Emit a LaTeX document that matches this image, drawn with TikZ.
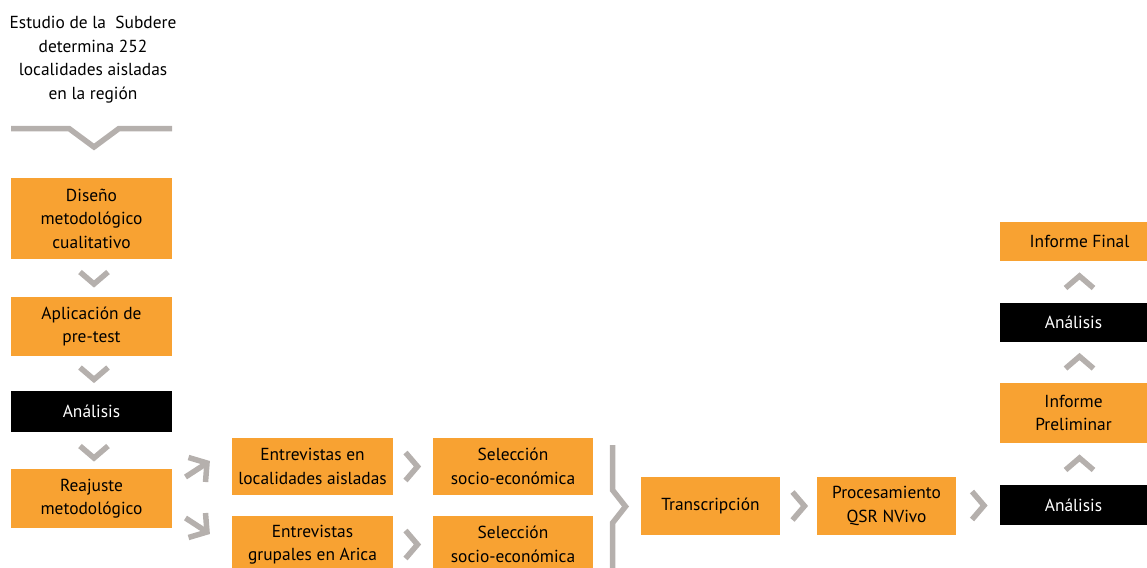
\documentclass[tikz,border=0pt]{standalone}
\usepackage{fontspec}
\setmainfont{PT Sans}
\usetikzlibrary{calc}
\definecolor{orng}{RGB}{248,162,50}
\definecolor{chgray}{RGB}{181,176,173}
\tikzset{
  box/.style={fill=orng, inner sep=0pt, align=center, text=black,
    font=\fontsize{17.4}{23.5}\selectfont},
  dbox/.style={box, fill=black, text=white},
  chev/.style={draw=chgray, line width=5.5pt, miter limit=10},
  chevdown/.pic={\draw[chev] (-14,-6) -- (0,6) -- (14,-6);},
  chevup/.pic={\draw[chev] (-14,6) -- (0,-6) -- (14,6);},
  chevright/.pic={\draw[chev] (-6,-14) -- (6,0) -- (-6,14);},
}
\begin{document}
\begin{tikzpicture}[x={(1pt,0)}, y={(0,-1pt)}]
\useasboundingbox (0,0) rectangle (1147,567);
% top text
\node[font=\fontsize{17.4}{23.5}\selectfont, align=center, inner sep=0pt] (intro) at (93,59.5)
  {Estudio de la\ \ Subdere\\determina 252\\localidades aisladas\\en la región};
\coordinate (brL) at (11,128.5);
\coordinate (brR) at (172,128.5);
\draw[chev] (brL) -- (69,128.5) -- (94,147) -- (119,128.5) -- (brR);
% left column
\node[box, minimum width=161pt, minimum height=81pt] (dis) at (91.5,218.5) {Diseño\\metodológico\\cualitativo};
\node[box, minimum width=161pt, minimum height=59pt] (apl) at (91.5,326.5) {Aplicación de\\pre-test};
\node[dbox, minimum width=161pt, minimum height=41pt] (an1) at (91.5,411.5) {Análisis};
\node[box, minimum width=161pt, minimum height=59pt] (rea) at (91.5,498.5) {Reajuste\\metodológico};
\pic at ($(dis.south)!0.5!(apl.north)+(2.5,0)$) {chevdown};
\pic at ($(apl.south)!0.5!(an1.north)+(2.5,0)$) {chevdown};
\pic at ($(an1.south)!0.5!(rea.north)+(2.5,1.5)$) {chevdown};
% middle boxes
\node[box, minimum width=161pt, minimum height=57pt] (ent1) at (312.5,466.5) {Entrevistas en\\localidades aisladas};
\node[box, minimum width=161pt, minimum height=57pt] (ent2) at (312.5,544.5) {Entrevistas\\grupales en Arica};
\node[box, minimum width=160pt, minimum height=57pt] (sel1) at (513,466.5) {Selección\\socio-económica};
\node[box, minimum width=160pt, minimum height=57pt] (sel2) at (513,544.5) {Selección\\socio-económica};
\pic at ($(ent1.east)!0.5!(sel1.west)+(-1.5,0)$) {chevright};
\pic at ($(ent2.east)!0.5!(sel2.west)+(-1.5,0)$) {chevright};
% diagonal arrows
\coordinate (up0) at (185.5,477);
\coordinate (upA) at (207,463);
\draw[chev] (up0) -- (upA);
\draw[chev] (188.5,457.5) -- (upA) -- (205.5,482);
\coordinate (dn0) at (185.5,518);
\coordinate (dnA) at (207,532);
\draw[chev] (dn0) -- (dnA);
\draw[chev] (188.5,537.5) -- (dnA) -- (205.5,513);
% bracket
\coordinate (bkT) at (612.5,445);
\coordinate (bkB) at (612.5,575);
\draw[chev] (bkT) -- (612.5,490) -- (625.5,506.5) -- (612.5,523) -- (bkB);
% bottom row
\node[box, minimum width=139pt, minimum height=58pt] (tra) at (710.5,506) {Transcripción};
\node[box, minimum width=139pt, minimum height=58pt] (pro) at (886.5,506) {Procesamiento\\QSR NVivo};
\node[dbox, minimum width=147pt, minimum height=40pt] (an2) at (1073.5,505) {Análisis};
\pic at ($(tra.east)!0.5!(pro.west)$) {chevright};
\pic at ($(pro.east)!0.5!(an2.west)$) {chevright};
% right column
\node[box, minimum width=147pt, minimum height=60pt] (pre) at (1073.5,413) {Informe\\Preliminar};
\node[dbox, minimum width=147pt, minimum height=39pt] (an3) at (1073.5,322.5) {Análisis};
\node[box, minimum width=147pt, minimum height=39pt] (fin) at (1073.5,241.5) {\hspace*{12pt}Informe Final};
\pic at ($(an2.north)!0.5!(pre.south)+(6,0)$) {chevup};
\pic at ($(pre.north)!0.5!(an3.south)+(6,0)$) {chevup};
\pic at ($(an3.north)!0.5!(fin.south)+(6,0)$) {chevup};
\end{tikzpicture}
\end{document}
